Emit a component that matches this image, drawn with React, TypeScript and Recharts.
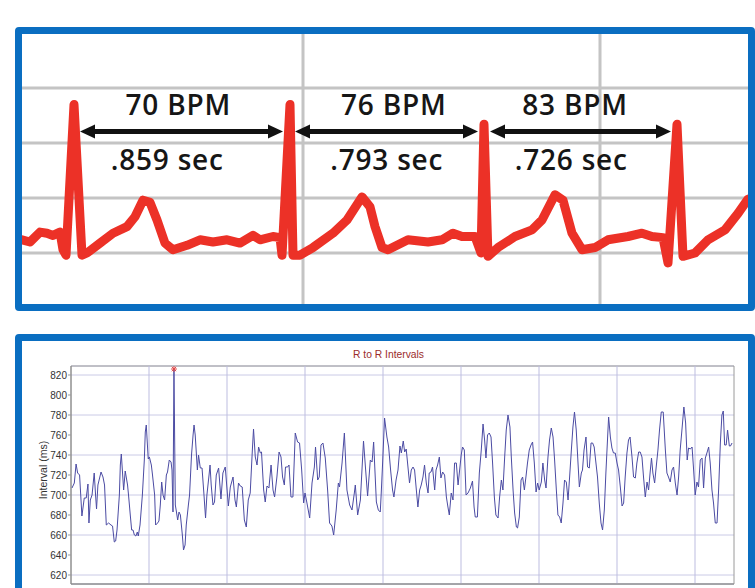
import React from 'react';
import {
  LineChart,
  Line,
  XAxis,
  YAxis,
  CartesianGrid,
  ReferenceLine,
  ReferenceDot,
  ReferenceArea,
} from 'recharts';

// ---------- Top panel: ECG strip (time in ms, amplitude in mV) ----------
const ecgTrace: [number, number][] = [
  [0, 0.12], [32, 0.1], [72, 0.19], [100, 0.18], [124, 0.16], [152, 0.19], [164, 0.03], [176, -0.02],
  [208, 1.35], [240, -0.02], [260, 0.0], [312, 0.09], [364, 0.18], [420, 0.24], [452, 0.33], [484, 0.48],
  [512, 0.46], [540, 0.3], [572, 0.09], [604, 0.03], [660, 0.07], [712, 0.12], [764, 0.1], [820, 0.12],
  [872, 0.09], [924, 0.16], [952, 0.12], [1004, 0.15], [1032, 0.14], [1040, -0.02], [1072, 1.35],
  [1084, -0.02], [1112, -0.02], [1164, 0.05], [1244, 0.18], [1300, 0.3], [1360, 0.51], [1392, 0.42],
  [1412, 0.24], [1440, 0.05], [1464, 0.03], [1544, 0.12], [1624, 0.1], [1680, 0.12], [1724, 0.18],
  [1760, 0.15], [1812, 0.15], [1836, 0.0], [1848, 1.17], [1864, -0.03], [1904, 0.05], [1972, 0.15],
  [2040, 0.21], [2080, 0.3], [2132, 0.53], [2164, 0.48], [2200, 0.18], [2240, 0.03], [2292, 0.05],
  [2344, 0.12], [2424, 0.15], [2480, 0.18], [2520, 0.15], [2564, 0.14], [2584, -0.09], [2620, 1.17],
  [2644, -0.03], [2692, 0.0], [2744, 0.12], [2812, 0.21], [2864, 0.36], [2904, 0.49],
];
const ecgGridMv = [0, 0.5, 1, 1.5];
const ecgGridMs = [1124, 2312];
const rrArrowStartMs = [232, 1092, 1872];
const rrArrowEndMs = [1044, 1824, 2596];
const rrArrowMv = 1.105;
const bpmLabels = ['70 BPM', '76 BPM', '83 BPM'];
const bpmLabelMs = [625, 1487, 2212];
const bpmLabelMv = 1.2545;
const secLabels = ['.859 sec', '.793 sec', '.726 sec'];
const secLabelMs = [581, 1459, 2197];
const secLabelMv = 0.7545;

// ---------- Bottom panel: R to R intervals (time in s, interval in ms) ----------
const rrBeats: [number, number][] = [
  [0.5, 707], [1.7, 712], [2.6, 731], [3.4, 722], [4.4, 720], [5.6, 679], [6.8, 697], [7.8, 697], [8.7, 711],
  [9.2, 672], [9.9, 695], [10.8, 700], [11.9, 722], [12.6, 700], [13.1, 686], [13.8, 710], [15.4, 723],
  [16.4, 718], [17.2, 710], [18.1, 670], [19.3, 672], [20.5, 670], [21.3, 669], [22.2, 653], [22.9, 654],
  [23.6, 665], [24.8, 700], [25.3, 730], [25.8, 741], [27.0, 705], [27.8, 724], [29.0, 710], [29.5, 700],
  [30.4, 680], [31.1, 665], [31.8, 665], [32.5, 660], [33.3, 659], [34.0, 663], [34.5, 659], [35.4, 670],
  [36.6, 700], [37.6, 735], [38.1, 763], [38.6, 770], [39.6, 736], [40.2, 738], [41.2, 730], [41.8, 720],
  [42.9, 700], [43.4, 670], [44.4, 672], [45.1, 674], [45.8, 690], [46.5, 713], [47.2, 700], [48.0, 695],
  [48.9, 720], [49.5, 723], [50.4, 735], [51.3, 733], [51.8, 725], [52.3, 683], [52.8, 826], [53.5, 690],
  [54.0, 684], [54.7, 675], [55.4, 683], [56.1, 680], [57.1, 660], [57.7, 645], [58.5, 650], [59.1, 670],
  [60.2, 690], [60.8, 700], [61.8, 740], [62.6, 760], [63.1, 770], [63.7, 760], [64.8, 725], [65.4, 740],
  [66.3, 727], [67.2, 727], [68.2, 700], [69.0, 677], [69.7, 700], [70.8, 720], [71.3, 730], [71.9, 710],
  [72.8, 690], [73.6, 693], [74.5, 720], [75.7, 727], [76.9, 696], [77.9, 722], [79.1, 728], [80.7, 689],
  [81.7, 708], [83.1, 718], [84.1, 695], [84.8, 688], [85.9, 712], [86.8, 709], [87.8, 708], [88.9, 675],
  [89.9, 668], [90.9, 695], [91.9, 702], [93.0, 745], [93.6, 766], [94.5, 738], [95.4, 730], [96.2, 748],
  [97.1, 742], [97.7, 743], [98.8, 705], [99.6, 693], [100.5, 709], [101.5, 707], [102.6, 730], [103.6, 705],
  [104.4, 698], [105.6, 718], [106.7, 743], [107.7, 738], [108.5, 718], [109.4, 710], [110.0, 728],
  [111.1, 728], [111.8, 730], [112.8, 698], [113.8, 698], [115.0, 762], [116.2, 753], [117.2, 752],
  [118.3, 725], [119.3, 692], [120.0, 702], [121.0, 692], [122.4, 677], [123.6, 712], [124.8, 728],
  [125.4, 748], [126.5, 715], [127.3, 718], [128.2, 750], [129.2, 752], [130.4, 737], [131.6, 705],
  [132.6, 672], [133.8, 669], [134.7, 660], [136.0, 685], [137.1, 712], [137.7, 708], [139.0, 732],
  [140.2, 762], [141.5, 705], [142.9, 690], [144.1, 685], [145.3, 702], [145.8, 710], [147.0, 680],
  [148.4, 695], [150.0, 754], [151.1, 725], [152.1, 699], [153.5, 735], [154.4, 733], [155.2, 753],
  [156.6, 693], [157.6, 685], [158.6, 683], [159.1, 702], [159.8, 732], [160.8, 777], [162.0, 758],
  [162.9, 748], [163.9, 725], [164.9, 705], [165.6, 698], [166.7, 715], [167.7, 725], [168.7, 749],
  [169.4, 742], [170.4, 754], [171.1, 743], [171.9, 746], [172.8, 728], [173.6, 712], [174.5, 725],
  [175.4, 728], [176.2, 725], [177.1, 705], [177.9, 688], [178.8, 705], [179.6, 710], [180.5, 718],
  [181.3, 730], [182.2, 712], [183.1, 702], [183.7, 722], [184.6, 723], [185.4, 728], [186.5, 705],
  [187.2, 725], [188.0, 730], [188.9, 738], [189.7, 717], [190.6, 723], [191.6, 720], [192.5, 698],
  [193.3, 688], [194.0, 680], [195.0, 702], [195.9, 695], [196.7, 732], [197.6, 732], [198.5, 710],
  [199.3, 725], [200.1, 740], [200.8, 748], [201.7, 745], [202.6, 700], [203.6, 702], [204.8, 707],
  [205.9, 714], [206.7, 688], [207.3, 678], [208.4, 678], [209.4, 722], [210.4, 745], [211.3, 771],
  [212.1, 755], [212.8, 737], [213.6, 760], [214.5, 762], [215.4, 758], [216.2, 732], [217.1, 698],
  [217.9, 680], [219.0, 677], [219.8, 698], [220.7, 715], [221.5, 705], [222.4, 738], [223.2, 765],
  [224.1, 780], [225.1, 768], [225.8, 738], [226.7, 705], [227.5, 682], [228.4, 668], [229.0, 667],
  [229.9, 678], [230.8, 715], [231.6, 718], [232.5, 705], [233.3, 718], [234.1, 732], [235.0, 745],
  [235.9, 750], [236.7, 753], [237.6, 732], [238.5, 703], [239.3, 712], [240.1, 705], [241.2, 713],
  [242.0, 732], [242.9, 715], [243.6, 707], [244.6, 738], [245.4, 755], [246.3, 767], [247.2, 758],
  [248.0, 735], [248.9, 705], [249.7, 680], [250.6, 678], [251.4, 672], [252.3, 692], [253.1, 715],
  [254.0, 713], [254.9, 695], [255.7, 718], [256.6, 745], [257.4, 768], [258.2, 783], [259.1, 765],
  [260.0, 732], [260.7, 708], [261.7, 722], [262.3, 725], [263.1, 745], [264.1, 758], [264.9, 728],
  [265.8, 727], [266.7, 752], [267.5, 752], [268.3, 748], [269.2, 732], [270.0, 718], [270.9, 692],
  [271.8, 672], [272.6, 665], [273.5, 685], [274.3, 722], [275.2, 758], [275.7, 778], [276.6, 758],
  [277.4, 747], [278.2, 742], [279.1, 742], [280.0, 732], [280.8, 725], [281.7, 708], [282.6, 689],
  [283.4, 692], [284.2, 718], [285.1, 742], [285.9, 755], [286.7, 758], [287.7, 738], [288.5, 718],
  [289.4, 717], [290.2, 732], [291.1, 743], [291.9, 743], [292.8, 738], [293.6, 718], [294.5, 698],
  [295.4, 713], [296.2, 705], [297.1, 725], [297.7, 737], [298.4, 722], [299.3, 712], [300.1, 728],
  [301.0, 745], [301.8, 765], [302.7, 783], [303.7, 783], [304.8, 745], [305.6, 722], [306.4, 718],
  [307.3, 713], [308.2, 725], [309.0, 728], [309.9, 712], [310.8, 700], [311.6, 718], [312.4, 745],
  [313.3, 765], [314.3, 788], [315.2, 772], [316.0, 735], [316.7, 747], [317.6, 746], [318.5, 748],
  [319.3, 725], [320.1, 700], [321.0, 713], [321.8, 708], [322.7, 735], [323.6, 737], [324.4, 707],
  [325.3, 737], [326.1, 742], [327.0, 748], [327.8, 732], [328.7, 705], [329.5, 692], [330.4, 672],
  [331.3, 672], [332.1, 705], [333.0, 752], [333.8, 780], [334.5, 784], [335.2, 750], [336.0, 750],
  [336.7, 765], [337.6, 749], [338.2, 749], [339.0, 752],
];
const rrYTicks = [620, 640, 660, 680, 700, 720, 740, 760, 780, 800, 820];
const rrXTicks = [0, 20, 40, 60, 80, 100, 120, 140, 160, 180, 200, 220, 240, 260, 280, 300, 320, 340];
const rrXGrid = [40, 80, 120, 160, 200, 240, 280, 320];
const rrTitle = 'R to R Intervals';
const rrYLabel = 'Interval (ms)';

const BLUE = '#0A6EC1';
const ecgData = ecgTrace.map(([ms, mv]) => ({ ms, mv }));
const rrData = rrBeats.map(([t, ms]) => ({ t, ms }));
const maxBeat = rrBeats.reduce((a, b) => (b[1] > a[1] ? b : a), rrBeats[0]);

const ArrowShape = (props: any) => {
  const { x1, y1, x2, y2 } = props;
  const y = (y1 + y2) / 2;
  const head = 15;
  const half = 7;
  return (
    <g>
      <line x1={x1 + head - 1} y1={y} x2={x2 - head + 1} y2={y} stroke="#111" strokeWidth={5} />
      <polygon points={`${x1},${y} ${x1 + head},${y - half} ${x1 + head},${y + half}`} fill="#111" />
      <polygon points={`${x2},${y} ${x2 - head},${y - half} ${x2 - head},${y + half}`} fill="#111" />
    </g>
  );
};

const makeTextShape = (label: string) => (p: any) => (
  <text
    x={p.cx}
    y={p.cy}
    textAnchor="middle"
    fontFamily="'Open Sans', 'Noto Sans', sans-serif"
    fontWeight={600}
    fontSize={28}
    letterSpacing={0.8}
    fill="#161616"
  >
    {label}
  </text>
);

const AsteriskShape = (p: any) => {
  const { cx, cy } = p;
  const s = 3;
  return (
    <g stroke="#E04848" strokeWidth={1}>
      <line x1={cx - s} y1={cy} x2={cx + s} y2={cy} />
      <line x1={cx} y1={cy - s} x2={cx} y2={cy + s} />
      <line x1={cx - 2.2} y1={cy - 2.2} x2={cx + 2.2} y2={cy + 2.2} />
      <line x1={cx - 2.2} y1={cy + 2.2} x2={cx + 2.2} y2={cy - 2.2} />
    </g>
  );
};

const YLabel = (p: any) => {
  const vb = p.viewBox || { x: 0, y: 0, width: 0, height: 0 };
  const x = vb.x + 16;
  const y = vb.y + vb.height / 2 - 5;
  return (
    <text
      x={x}
      y={y}
      transform={`rotate(-90 ${x} ${y})`}
      textAnchor="middle"
      fontFamily="'Liberation Sans', Arial, sans-serif"
      fontSize={10.5}
      fill="#333"
    >
      {rrYLabel}
    </text>
  );
};

export default function App() {
  return (
    <div style={{ position: 'absolute', left: 0, top: 0, width: 755, height: 588, overflow: 'hidden', background: '#fff' }}>
      {/* ECG panel */}
      <div
        style={{
          position: 'absolute',
          left: 15,
          top: 27,
          width: 740,
          height: 284,
          boxSizing: 'border-box',
          border: `7px solid ${BLUE}`,
          borderRadius: 4,
          background: '#fff',
        }}
      >
        <LineChart width={726} height={270} data={ecgData} margin={{ top: 0, right: 0, bottom: 0, left: 0 }}>
          <XAxis dataKey="ms" type="number" domain={[0, 2904]} hide />
          <YAxis type="number" domain={[-0.4636, 1.991]} hide />
          <CartesianGrid
            stroke="#C4C4C4"
            strokeWidth={3}
            horizontalValues={ecgGridMv}
            verticalValues={ecgGridMs}
          />
          <Line
            dataKey="mv"
            type="linear"
            stroke="#EC3127"
            strokeWidth={9}
            strokeLinejoin="round"
            strokeLinecap="round"
            dot={false}
            isAnimationActive={false}
          />
          {rrArrowStartMs.map((s, i) => (
            <ReferenceLine
              key={`arr${i}`}
              segment={[{ x: s, y: rrArrowMv }, { x: rrArrowEndMs[i], y: rrArrowMv }]}
              shape={ArrowShape}
            />
          ))}
          {bpmLabels.map((l, i) => (
            <ReferenceDot key={`bpm${i}`} x={bpmLabelMs[i]} y={bpmLabelMv} r={0} shape={makeTextShape(l)} />
          ))}
          {secLabels.map((l, i) => (
            <ReferenceDot key={`sec${i}`} x={secLabelMs[i]} y={secLabelMv} r={0} shape={makeTextShape(l)} />
          ))}
        </LineChart>
      </div>

      {/* R-R interval panel */}
      <div
        style={{
          position: 'absolute',
          left: 15,
          top: 334,
          width: 740,
          height: 300,
          boxSizing: 'border-box',
          border: `7px solid ${BLUE}`,
          borderRadius: 4,
          background: '#fff',
        }}
      >
        <LineChart width={726} height={247} data={rrData} margin={{ top: 25, right: 14, bottom: 0, left: 9 }}>
          <CartesianGrid stroke="#CACAE6" strokeWidth={1} vertical={false} />
          {rrXGrid.map((g) => (
            <ReferenceLine key={`g${g}`} x={g} stroke="#BDBDE0" strokeWidth={1} />
          ))}
          <ReferenceArea x1={0} x2={340} y1={611} y2={829} fill="none" stroke="#9A9A9A" strokeWidth={1} />
          <XAxis
            dataKey="t"
            type="number"
            domain={[0, 340]}
            ticks={rrXTicks}
            height={4}
            tickSize={4}
            tick={false}
            axisLine={{ stroke: '#8A8A8A' }}
            tickLine={{ stroke: '#999' }}
          />
          <YAxis
            type="number"
            domain={[611, 829]}
            ticks={rrYTicks}
            width={40}
            tickSize={3}
            tickMargin={1}
            axisLine={{ stroke: '#8A8A8A' }}
            tickLine={{ stroke: '#999' }}
            tick={{ fill: '#333', fontSize: 10, fontFamily: "'Liberation Sans', Arial, sans-serif" }}
            label={{ content: YLabel }}
          />
          <Line
            dataKey="ms"
            type="linear"
            stroke="#4B4BA3"
            strokeWidth={1}
            dot={false}
            isAnimationActive={false}
          />
          <ReferenceDot x={maxBeat[0]} y={maxBeat[1]} r={0} shape={AsteriskShape} />
        </LineChart>
      </div>

      <svg width={755} height={588} style={{ position: 'absolute', left: 0, top: 0, pointerEvents: 'none' }}>
        <text
          x={388.5}
          y={358}
          textAnchor="middle"
          fontFamily="'Liberation Sans', Arial, sans-serif"
          fontSize={10.3}
          fill="#9B2B2B"
        >
          {rrTitle}
        </text>
      </svg>
    </div>
  );
}
